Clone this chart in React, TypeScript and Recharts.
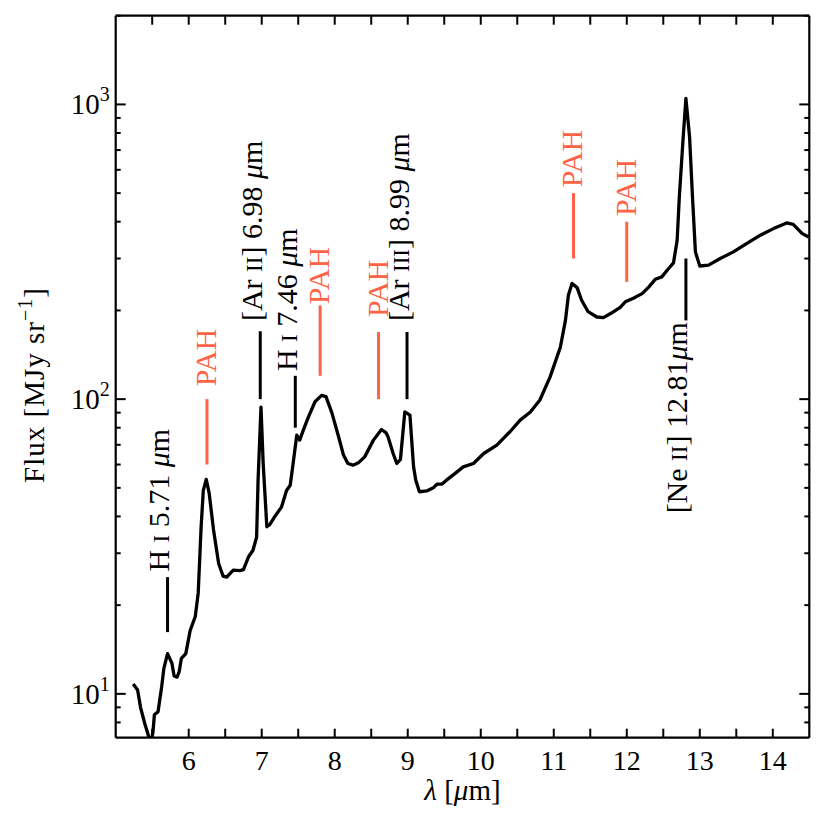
import React from 'react';
import { LineChart, Line, XAxis, YAxis, ReferenceLine, ReferenceDot } from 'recharts';

// spectrum
const wavelength = [
  5.24, 5.3, 5.34, 5.4, 5.45, 5.48, 5.51, 5.53, 5.58, 5.63, 5.66, 5.71, 5.77, 5.8, 5.84, 5.87, 5.9, 5.96,
  6.02, 6.09, 6.13, 6.17, 6.2, 6.24, 6.28, 6.34, 6.41, 6.47, 6.52, 6.61, 6.7, 6.75, 6.82, 6.88, 6.93, 6.95,
  6.99, 7.02, 7.07, 7.11, 7.18, 7.27, 7.34, 7.39, 7.43, 7.48, 7.52, 7.57, 7.64, 7.73, 7.82, 7.88, 7.96,
  8.05, 8.12, 8.18, 8.25, 8.33, 8.41, 8.53, 8.64, 8.7, 8.73, 8.8, 8.85, 8.9, 8.96, 9.03, 9.08, 9.11, 9.16,
  9.26, 9.35, 9.4, 9.47, 9.53, 9.65, 9.76, 9.9, 10.04, 10.22, 10.4, 10.54, 10.68, 10.81, 10.95, 11.09,
  11.16, 11.2, 11.25, 11.32, 11.38, 11.47, 11.59, 11.68, 11.79, 11.91, 11.98, 12.09, 12.21, 12.3, 12.39,
  12.48, 12.57, 12.64, 12.69, 12.72, 12.77, 12.81, 12.86, 12.9, 12.94, 13.0, 13.12, 13.28, 13.46, 13.64,
  13.83, 14.01, 14.19, 14.28, 14.4, 14.49,
];
const flux = [
  10.8, 10.3, 9.0, 7.9, 7.2, 6.8, 7.4, 8.5, 8.7, 10.6, 12.2, 13.7, 12.7, 11.5, 11.4, 11.9, 13.2, 13.7,
  16.4, 18.3, 22, 36.9, 49, 53.4, 48, 36, 27.7, 25.1, 24.9, 26.3, 26.2, 26.4, 29.2, 30.7, 34, 53,
  94, 60.5, 36.9, 37.5, 40, 43, 49, 51, 60.5, 75.5, 72.6, 78.5, 87, 98, 103, 102, 90,
  75, 64.6, 60.5, 59.7, 61, 63.7, 72.6, 78.9, 77, 74.5, 65.4, 60.5, 62.4, 90.5, 88.3, 58.9, 53.1, 48.5,
  48.8, 50, 51.5, 51.5, 53.1, 56, 58.9, 60.5, 65.4, 69.8, 77.5, 84.9, 90.5, 99.3, 119, 150,
  185, 225, 247, 239, 217, 198, 190, 189, 196, 205, 214, 220, 228, 240, 255,
  260, 277, 290, 346, 486, 757, 1048, 776, 486, 316, 283, 285, 300, 316, 337,
  360, 379, 396, 392, 365, 355,
];

const xTicks = [5.5, 6, 6.5, 7, 7.5, 8, 8.5, 9, 9.5, 10, 10.5, 11, 11.5, 12, 12.5, 13, 13.5, 14];
const yTicks = [
  8, 9, 10, 20, 30, 40, 50, 60, 70, 80, 90, 100, 200, 300, 400, 500, 600, 700, 800, 900, 1000, 2000,
];

// line markers
const lineNames = [
  'H I 5.71 μm', 'PAH', '[Ar II] 6.98 μm', 'H I 7.46 μm', 'PAH',
  'PAH', '[Ar III] 8.99 μm', 'PAH', 'PAH', '[Ne II] 12.81μm',
];
const lineWavelength = [5.71, 6.25, 6.98, 7.46, 7.8, 8.6, 8.99, 11.27, 12.0, 12.81];
const lineLow = [16.2, 60, 100, 80, 120, 100, 100, 300, 250, 185];
const lineHigh = [24.9, 100, 170, 120, 208, 169, 169, 500, 400, 300];
const labelFlux = [26, 110.7, 184, 124.5, 210, 190, 184, 524, 418, 182.5];

const rows = wavelength.map((lam, i) => ({ lam, flux: flux[i] }));

const SERIF = '"Liberation Serif", "Times New Roman", serif';
const RED = '#ff6347';
const W = 830;
const H = 830;
// axes are 1px thick, so the plot box is 115.7..809.3 x 15.7..737.7
const MARGIN = { top: 14.7, right: 19.7, bottom: 91.3, left: 114.7 };

const isDecade = (v: number) => {
  const e = Math.log10(v);
  return Math.abs(e - Math.round(e)) < 1e-9;
};

const BottomTick = (props: any) => {
  const { x, y, payload } = props;
  const v = payload.value;
  return (
    <g>
      <line x1={x} y1={y} x2={x} y2={y - 9} stroke="#000" strokeWidth={2} />
      {Number.isInteger(v) && (
        <text x={x} y={y + 32} textAnchor="middle" fontSize={28} fontFamily={SERIF} fill="#000">
          {v}
        </text>
      )}
    </g>
  );
};

const TopTick = (props: any) => {
  const { x, y } = props;
  return <line x1={x} y1={y} x2={x} y2={y + 9} stroke="#000" strokeWidth={2} />;
};

const LeftTick = (props: any) => {
  const { x, y, payload } = props;
  const v = payload.value;
  const major = isDecade(v);
  return (
    <g>
      <line x1={x} y1={y} x2={x + (major ? 10 : 5)} y2={y} stroke="#000" strokeWidth={2} />
      {major && (
        <text x={x - 6} y={y + 10} textAnchor="end" fontSize={29} fontFamily={SERIF} fill="#000">
          10
          <tspan dy={-13} fontSize={20}>
            {Math.round(Math.log10(v))}
          </tspan>
        </text>
      )}
    </g>
  );
};

const RightTick = (props: any) => {
  const { x, y, payload } = props;
  const len = isDecade(payload.value) ? 10 : 5;
  return <line x1={x} y1={y} x2={x - len} y2={y} stroke="#000" strokeWidth={2} />;
};

function LabelText({ name }: { name: string }) {
  if (name === 'PAH') return <>PAH</>;
  const [ion, stage, ...rest] = name.split(' ');
  const forbidden = ion.startsWith('[');
  const tail = rest.join(' ');
  const [num, unit] = tail.split('μ');
  return (
    <>
      {ion}{' '}
      <tspan fontSize={23}>{stage.replace(']', '')}</tspan>
      {forbidden ? ']' : ''} {num}
      <tspan fontStyle="italic">μ</tspan>
      {unit}
    </>
  );
}

const Annotation = (props: any) => {
  const { cx, cy, index } = props;
  const name = lineNames[index];
  const pah = name === 'PAH';
  const below = labelFlux[index] < lineLow[index];
  const bx = cx + (pah ? 9 : 1.5);
  return (
    <text
      x={bx}
      y={cy}
      transform={`rotate(-90 ${bx} ${cy})`}
      textAnchor={below ? 'end' : 'start'}
      fontSize={30}
      fontFamily={SERIF}
      fill={pah ? RED : '#000'}
    >
      <LabelText name={name} />
    </text>
  );
};

function AxisTitles() {
  const plotW = W - MARGIN.left - MARGIN.right - 2;
  const cxX = MARGIN.left + 1 + plotW / 2;
  const yLabX = 44;
  const yLabY = 385;
  return (
    <g fontFamily={SERIF} fill="#000" fontSize={29}>
      <text x={cxX} y={800} textAnchor="middle">
        <tspan fontStyle="italic">λ</tspan> [<tspan fontStyle="italic">μ</tspan>m]
      </text>
      <text
        x={yLabX}
        y={yLabY}
        textAnchor="middle"
        letterSpacing={1}
        transform={`rotate(-90 ${yLabX} ${yLabY})`}
      >
        Flux [MJy sr
        <tspan dy={-12} fontSize={20}>
          −1
        </tspan>
        <tspan dy={12}>]</tspan>
      </text>
    </g>
  );
}

export default function App() {
  const axisLine = { stroke: '#000', strokeWidth: 2.2 };
  return (
    <div style={{ position: 'absolute', left: 0, top: 0, background: '#fff' }}>
      <LineChart width={W} height={H} data={rows} margin={MARGIN}>
        <XAxis
          dataKey="lam"
          type="number"
          domain={[5, 14.5]}
          allowDataOverflow
          ticks={xTicks}
          interval={0}
          height={1}
          tickSize={0}
          tickMargin={0}
          tickLine={false}
          axisLine={axisLine}
          tick={<BottomTick />}
        />
        <XAxis
          xAxisId="top"
          orientation="top"
          dataKey="lam"
          type="number"
          domain={[5, 14.5]}
          allowDataOverflow
          ticks={xTicks}
          interval={0}
          height={1}
          tickSize={0}
          tickMargin={0}
          tickLine={false}
          axisLine={axisLine}
          tick={<TopTick />}
        />
        <YAxis
          type="number"
          scale="log"
          domain={[7.1, 2000]}
          allowDataOverflow
          ticks={yTicks}
          interval={0}
          width={1}
          tickSize={0}
          tickMargin={0}
          tickLine={false}
          axisLine={axisLine}
          tick={<LeftTick />}
        />
        <YAxis
          yAxisId="right"
          orientation="right"
          type="number"
          scale="log"
          domain={[7.1, 2000]}
          allowDataOverflow
          ticks={yTicks}
          interval={0}
          width={1}
          tickSize={0}
          tickMargin={0}
          tickLine={false}
          axisLine={axisLine}
          tick={<RightTick />}
        />
        {lineWavelength.map((lam, i) => (
          <ReferenceLine
            key={`seg-${i}`}
            segment={[
              { x: lam, y: lineLow[i] },
              { x: lam, y: lineHigh[i] },
            ]}
            stroke={lineNames[i] === 'PAH' ? RED : '#000'}
            strokeWidth={3}
          />
        ))}
        {lineWavelength.map((lam, i) => (
          <ReferenceDot
            key={`lab-${i}`}
            x={lam}
            y={labelFlux[i]}
            r={0}
            shape={(p: any) => <Annotation {...p} index={i} />}
          />
        ))}
        <Line
          dataKey="flux"
          type="linear"
          stroke="#000"
          strokeWidth={3.3}
          strokeLinejoin="round"
          dot={false}
          activeDot={false}
          isAnimationActive={false}
        />
        <AxisTitles />
      </LineChart>
    </div>
  );
}
